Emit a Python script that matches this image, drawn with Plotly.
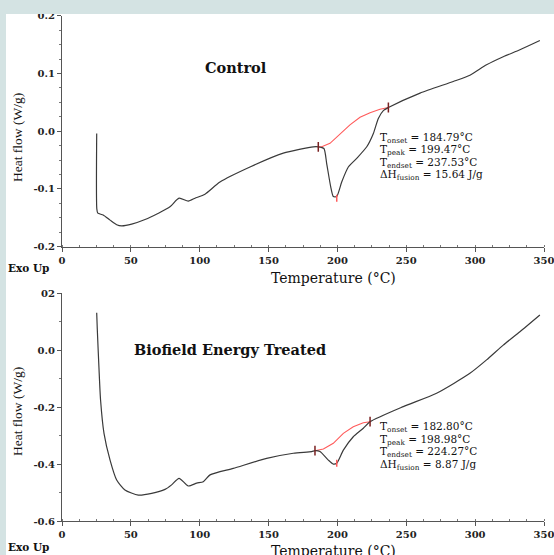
import plotly.graph_objects as go

W, H = 554, 555

# ---- Control DSC curve ----
ctrl_T = [25.2, 25.3, 26.0, 29.9, 34.9, 39.7, 43.3, 50.6, 60.3, 70.0, 78.4, 85.0, 91.7, 96.6, 103.8,
          114.7, 136.5, 160.7, 182.5, 186.1, 190.2, 192.2, 195.1, 197.0, 199.5, 203.1, 207.9, 214.0,
          221.3, 226.1, 229.7, 233.5, 237.0, 260.0, 284.1, 296.2, 308.3, 320.4, 332.5, 347.0]
ctrl_HF = [-0.004, -0.135, -0.142, -0.145, -0.154, -0.162, -0.164, -0.161, -0.153, -0.142, -0.131, -0.116,
           -0.121, -0.116, -0.109, -0.088, -0.062, -0.038, -0.027, -0.027, -0.030, -0.056, -0.096, -0.113,
           -0.113, -0.088, -0.062, -0.047, -0.027, -0.004, 0.022, 0.036, 0.041, 0.066, 0.086, 0.097,
           0.115, 0.129, 0.141, 0.157]
ctrl_base_T = [186.1, 188.6, 194.6, 201.9, 209.1, 216.4, 223.7, 230.9, 237.0]
ctrl_base_HF = [-0.027, -0.027, -0.021, -0.004, 0.011, 0.024, 0.032, 0.038, 0.041]
ctrl_marks_T = [186.1, 237.0]
ctrl_marks_HF = [-0.027, 0.041]
ctrl_peak = [199.5, -0.116]

# ---- Treated DSC curve ----
trt_T = [25.2, 25.6, 26.8, 28.0, 30.5, 34.9, 39.7, 45.7, 55.4, 65.1, 74.8, 79.6, 85.0, 91.7, 97.8, 102.6,
         107.5, 124.4, 148.6, 168.0, 181.3, 183.7, 187.3, 193.4, 197.0, 199.5, 204.3, 211.5, 218.8,
         223.7, 247.8, 272.0, 296.2, 308.3, 320.4, 332.5, 347.0]
trt_HF = [0.132, 0.077, -0.058, -0.175, -0.292, -0.386, -0.456, -0.491, -0.509, -0.503, -0.489, -0.473,
          -0.450, -0.477, -0.467, -0.462, -0.438, -0.415, -0.380, -0.362, -0.356, -0.353, -0.356, -0.386,
          -0.400, -0.397, -0.351, -0.304, -0.274, -0.251, -0.198, -0.151, -0.081, -0.034, 0.018, 0.065, 0.124]
trt_base_T = [183.7, 189.8, 197.0, 204.3, 211.5, 218.8, 223.7]
trt_base_HF = [-0.353, -0.347, -0.327, -0.292, -0.269, -0.255, -0.251]
trt_marks_T = [183.7, 223.7]
trt_marks_HF = [-0.353, -0.251]
trt_peak = [199.5, -0.397]

x_ticks = [0, 50, 100, 150, 200, 250, 300, 350]
top_y_ticks = [0.2, 0.1, 0.0, -0.1, -0.2]
top_y_text = ["0.2", "0.1", "0.0", "-0.1", "-0.2"]
bot_y_ticks = [0.2, 0.0, -0.2, -0.4, -0.6]
bot_y_text = ["02", "0.0", "-0.2", "-0.4", "-0.6"]

ctrl_text = ["T<sub>onset</sub> = 184.79°C", "T<sub>peak</sub> = 199.47°C",
             "T<sub>endset</sub> = 237.53°C", "ΔH<sub>fusion</sub> = 15.64 J/g"]
trt_text = ["T<sub>onset</sub> = 182.80°C", "T<sub>peak</sub> = 198.98°C",
            "T<sub>endset</sub> = 224.27°C", "ΔH<sub>fusion</sub> = 8.87 J/g"]

LINE = "#3a3a3a"
RED = "#ff5a5a"
SERIF = "Liberation Serif"
WIDE = "DejaVu Serif"
BG = "#d4e3e3"

fig = go.Figure()

def add_panel(xa, ya, T, HF, bT, bHF, mT, mHF, pk):
    fig.add_trace(go.Scatter(x=bT, y=bHF, mode="lines", line=dict(color=RED, width=1.1),
                             xaxis=xa, yaxis=ya, hoverinfo="skip"))
    fig.add_trace(go.Scatter(x=T, y=HF, mode="lines", line=dict(color=LINE, width=1.2, shape="spline", smoothing=0.6),
                             xaxis=xa, yaxis=ya, hoverinfo="skip"))
    fig.add_trace(go.Scatter(x=mT, y=mHF, mode="markers",
                             marker=dict(symbol="line-ns", size=7, line=dict(color="#7a2020", width=1.5)),
                             xaxis=xa, yaxis=ya, hoverinfo="skip"))
    fig.add_trace(go.Scatter(x=[pk[0]], y=[pk[1]], mode="markers",
                             marker=dict(symbol="line-ns", size=5, line=dict(color=RED, width=1.5)),
                             xaxis=xa, yaxis=ya, hoverinfo="skip"))

add_panel("x", "y", ctrl_T, ctrl_HF, ctrl_base_T, ctrl_base_HF, ctrl_marks_T, ctrl_marks_HF, ctrl_peak)
add_panel("x2", "y2", trt_T, trt_HF, trt_base_T, trt_base_HF, trt_marks_T, trt_marks_HF, trt_peak)

def px_x(p):
    return p / W

def px_y(p):
    return 1 - p / H

x0, x1 = px_x(62), px_x(544)
tfont = dict(family=WIDE, size=10, color="#222", weight="bold")

def xaxis_cfg(anchor):
    return dict(domain=[x0, x1], range=[0, 350], anchor=anchor, tickvals=x_ticks, automargin=False,
                ticklabeloverflow="allow",
                ticks="outside", ticklen=4, tickwidth=1, tickcolor="#555",
                showline=True, linecolor="#555", linewidth=1, showgrid=False, zeroline=False,
                tickfont=tfont,
                minor=dict(dtick=12.5, ticks="inside", ticklen=2, tickcolor="#777"))

def yaxis_cfg(anchor, dom, rng, tv, tt, mdt):
    return dict(domain=dom, range=rng, anchor=anchor, tickvals=tv, ticktext=tt, automargin=False,
                ticklabeloverflow="allow",
                ticks="outside", ticklen=4, tickwidth=1, tickcolor="#555",
                showline=True, linecolor="#555", linewidth=1, showgrid=False, zeroline=False,
                tickfont=tfont,
                minor=dict(dtick=mdt, ticks="outside", ticklen=2, tickcolor="#777"))

fig.update_layout(
    width=W, height=H,
    margin=dict(l=0, r=0, t=0, b=0, autoexpand=False),
    paper_bgcolor="white",
    plot_bgcolor="white",
    showlegend=False,
    xaxis=xaxis_cfg("y"),
    yaxis=yaxis_cfg("x", [px_y(246.7), px_y(15.7)], [-0.2, 0.2], top_y_ticks, top_y_text, 0.025),
    xaxis2=xaxis_cfg("y2"),
    yaxis2=yaxis_cfg("x2", [px_y(521), px_y(293.3)], [-0.6, 0.2], bot_y_ticks, bot_y_text, 0.1),
    shapes=[
        dict(type="rect", xref="paper", yref="paper", x0=-0.01, x1=1.01, y0=px_y(14), y1=1.01,
             fillcolor=BG, line=dict(width=0), layer="above"),
        dict(type="rect", xref="paper", yref="paper", x0=-0.01, x1=px_x(6), y0=-0.01, y1=1.01,
             fillcolor=BG, line=dict(width=0), layer="above"),
    ],
)

ann = []
def txt(x, y, s, size, bold=False, angle=0, xanchor="left", fam=WIDE):
    ann.append(dict(xref="paper", yref="paper", x=px_x(x), y=px_y(y), text=s, showarrow=False,
                    xanchor=xanchor, yanchor="middle", textangle=angle,
                    font=dict(family=fam, size=size, color="#111", weight="bold" if bold else "normal")))

# Top panel texts
txt(203, 67, "Control", 14.5, bold=True)
txt(6, 268, "Exo Up", 10.5, bold=True)
txt(333, 278, "Temperature (°C)", 14, xanchor="center")
txt(17, 138, "Heat flow (W/g)", 13.5, angle=-90, xanchor="center", fam=SERIF)
for i, s in enumerate(ctrl_text):
    txt(378, 137.5 + 12.6 * i, s, 10.5)

# Bottom panel texts
txt(132, 349, "Biofield Energy Treated", 14.5, bold=True)
txt(6, 547, "Exo Up", 10.5, bold=True)
txt(333, 551, "Temperature (°C)", 14, xanchor="center")
txt(17, 412, "Heat flow (W/g)", 13.5, angle=-90, xanchor="center", fam=SERIF)
for i, s in enumerate(trt_text):
    txt(378, 427 + 12.7 * i, s, 10.5)

fig.update_layout(annotations=ann)
fig.write_html("out.html", config={"displayModeBar": False},
               post_script="document.body.style.margin='0';document.body.style.background='white';")
